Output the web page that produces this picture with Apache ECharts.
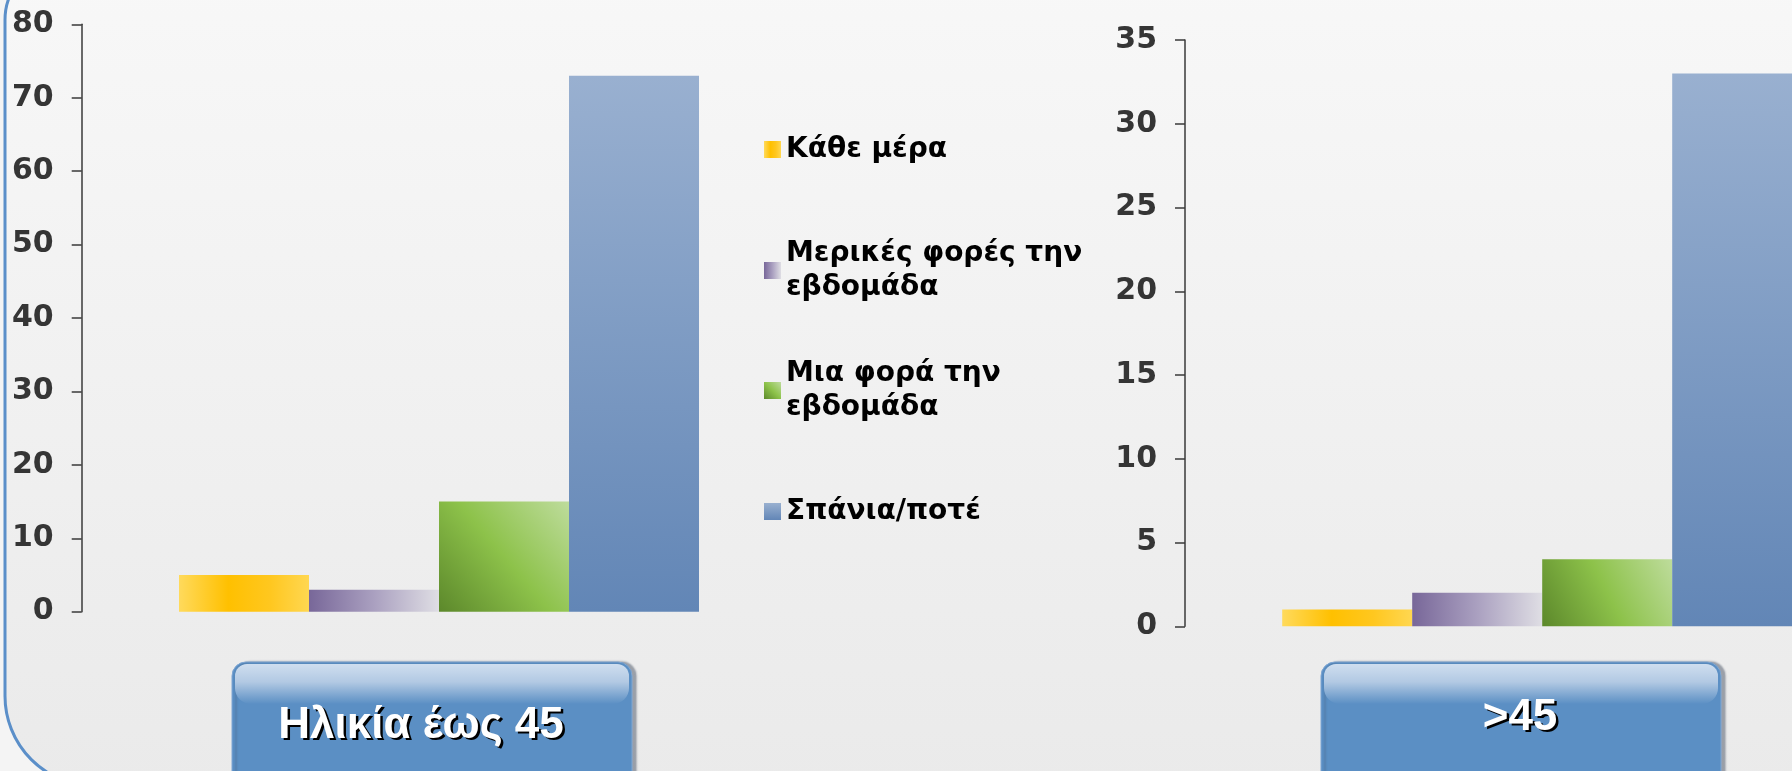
<!DOCTYPE html>
<html>
<head>
<meta charset="utf-8">
<script src="https://cdn.jsdelivr.net/npm/echarts@6/dist/echarts.min.js"></script>
<style>
  html, body { margin: 0; padding: 0; background: #f3f3f3; }
  #main { width: 1792px; height: 771px; }
</style>
</head>
<body>
<div id="main"></div>
<script>
// data
var seriesNames = ['Κάθε μέρα', 'Μερικές φορές την εβδομάδα', 'Μια φορά την εβδομάδα', 'Σπάνια/ποτέ'];
var groups = ['Ηλικία έως 45', '>45'];
var under45 = [5, 3, 15, 73];
var over45 = [1, 2, 4, 33];
var leftTicks = { min: 0, max: 80, interval: 10 };
var rightTicks = { min: 0, max: 35, interval: 5 };

var G = echarts.graphic;
var colors = [
    new G.LinearGradient(0, 0, 1, 0, [
        { offset: 0, color: '#ffda5c' }, { offset: 0.38, color: '#ffc000' },
        { offset: 0.7, color: '#ffc71f' }, { offset: 1, color: '#ffd751' }]),
    new G.LinearGradient(0, 0, 1, 0, [
        { offset: 0, color: '#786799' }, { offset: 0.5, color: '#aaa0c0' },
        { offset: 1, color: '#dfdee4' }]),
    new G.LinearGradient(0, 1, 1, 0, [
        { offset: 0, color: '#5c882b' }, { offset: 0.5, color: '#8dc24a' },
        { offset: 1, color: '#bedc9c' }]),
    new G.LinearGradient(0, 0, 0, 1, [
        { offset: 0, color: '#99b0d0' }, { offset: 1, color: '#6286b6' }])
];

var labelFont = { fontFamily: 'DejaVu Sans', fontWeight: 'bold', fontSize: 30, color: '#353535' };
var axisStroke = { color: '#3a3a3a', width: 1.5 };

function yAxis(gridIndex, t) {
    return {
        type: 'value', gridIndex: gridIndex, min: t.min, max: t.max, interval: t.interval,
        axisLine: { show: true, lineStyle: axisStroke },
        axisTick: { show: true, length: 10, lineStyle: axisStroke },
        splitLine: { show: false },
        axisLabel: Object.assign({ margin: 28 }, labelFont)
    };
}
function xAxis(gridIndex, name) {
    return {
        type: 'category', gridIndex: gridIndex, data: [name],
        axisLine: { show: false }, axisTick: { show: false }, axisLabel: { show: false }
    };
}

var series = [];
[under45, over45].forEach(function (vals, g) {
    vals.forEach(function (v, i) {
        series.push({
            type: 'bar', name: seriesNames[i], xAxisIndex: g, yAxisIndex: g,
            data: [v], barWidth: 130, barGap: '0%',
            itemStyle: { color: colors[i] }
        });
    });
});

// one legend per entry so each can sit where it is in the picture
var legendTops = [141, 262, 382, 503];
var legends = seriesNames.map(function (name, i) {
    var twoLines = name.indexOf(' την ') > 0;
    return {
        orient: 'vertical', left: 764,
        top: twoLines ? legendTops[i] - 42.5 : legendTops[i] - 8.5,
        padding: 0, itemWidth: 17, itemHeight: 17, icon: 'rect',
        data: [name], selectedMode: false,
        formatter: function (n) { return n.replace(' την ', ' την\n'); },
        textStyle: {
            fontFamily: 'DejaVu Sans', fontWeight: 'bold', fontSize: 28, color: '#000',
            lineHeight: 34, padding: twoLines ? [34, 0, 0, 0] : 0
        }
    };
});

function button(x, label, textX, baseY) {
    return {
        type: 'group', x: x, y: 662, children: [
            { type: 'rect', shape: { x: 0, y: 0, width: 400, height: 140, r: 14 },
              style: { fill: '#5b8fc4', stroke: '#7ea6d3', lineWidth: 1,
                       shadowColor: 'rgba(60,70,90,0.45)', shadowOffsetX: 4, shadowBlur: 2 } },
            { type: 'rect', shape: { x: 3, y: 2, width: 394, height: 40, r: [12, 12, 16, 16] },
              style: { fill: new G.LinearGradient(0, 0, 0, 1, [
                  { offset: 0, color: '#cfdeef' }, { offset: 0.45, color: '#b2c9e3' },
                  { offset: 1, color: '#5b8fc4' }]) } },
            { type: 'text', x: textX + 2.5, y: baseY + 2.5,
              style: { text: label, fill: '#000', font: 'bold 44px "Liberation Sans"',
                       textAlign: 'center', textVerticalAlign: 'bottom' } },
            { type: 'text', x: textX, y: baseY,
              style: { text: label, fill: '#fff', font: 'bold 44px "Liberation Sans"',
                       textAlign: 'center', textVerticalAlign: 'bottom' } }
        ]
    };
}

var chart = echarts.init(document.getElementById('main'));
chart.setOption({
    animation: false,
    backgroundColor: '#f4f4f4',
    grid: [
        { left: 81.7, top: 24.3, bottom: 159.3, width: 714.6, outerBoundsMode: 'none' },
        // the right panel runs past the edge of the picture
        { left: 1185, top: 40, bottom: 144.7, width: 714.4, outerBoundsMode: 'none' }
    ],
    xAxis: [xAxis(0, groups[0]), xAxis(1, groups[1])],
    yAxis: [yAxis(0, leftTicks), yAxis(1, rightTicks)],
    legend: legends,
    graphic: [
        { type: 'rect', z: -100, silent: true,
          shape: { x: 5, y: -40, width: 2000, height: 826, r: [60, 0, 0, 90] },
          style: { fill: new G.LinearGradient(0, 0, 0, 1, [
              { offset: 0, color: '#f8f8f8' }, { offset: 1, color: '#eaeaea' }]),
              stroke: '#5b8fc9', lineWidth: 3 } },
        button(232, groups[0], 189, 85.5),
        button(1321, groups[1], 199, 77.5)
    ],
    series: series
});
</script>
</body>
</html>
